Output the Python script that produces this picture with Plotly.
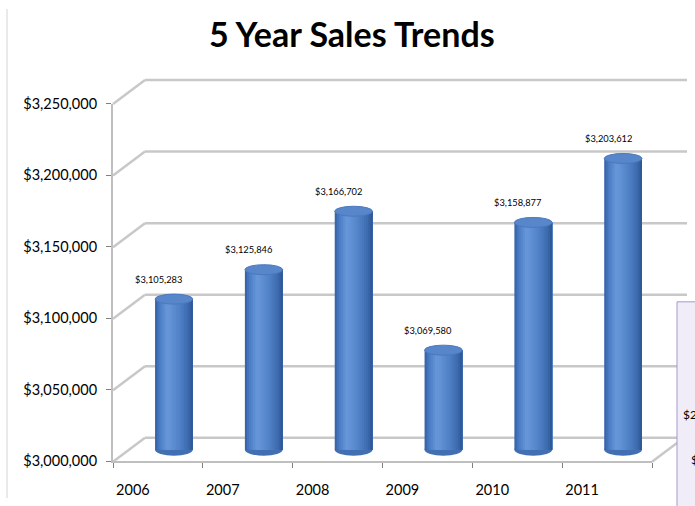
import plotly.graph_objects as go

# ---------------- data ----------------
YEARS = ["2006", "2007", "2008", "2009", "2010", "2011"]
SALES = [3105283, 3125846, 3166702, 3069580, 3158877, 3203612]
Y_TICKS = [3000000, 3050000, 3100000, 3150000, 3200000, 3250000]
Y_TICK_TEXT = ["$3,000,000", "$3,050,000", "$3,100,000", "$3,150,000", "$3,200,000", "$3,250,000"]
TITLE = "5 Year Sales Trends"
SIDE_TEXT = ["$2,950,000", "$2,900,000"]

# ---------------- geometry (pixels) ----------------
W, H = 695, 506
FX0, FX1 = 113, 652          # front floor left / right
FY0, FY1 = 468, 98           # front y of min / max tick
DX, DY = 32, 24              # depth of the 3D box
BX1 = 687                    # right end of back wall
Y_MIN, Y_MAX = Y_TICKS[0], Y_TICKS[-1]
S = (Y_MAX - Y_MIN) / (FY0 - FY1)   # value per pixel
N = len(YEARS)
STEP = (FX1 - FX0) / N
BW = 0.42                    # bar width (category units)


def fx(p):
    return p / W


def fy(p):
    return 1 - p / H


# mid-depth plane axis ranges (domain = whole figure)
mid_x0 = FX0 + DX / 2
x2_range = [(0 - mid_x0) / STEP - 0.5, (W - mid_x0) / STEP - 0.5]
y2_range = [Y_MIN - (H - (FY0 - DY / 2)) * S, Y_MAX + (FY1 - DY / 2) * S]

fig = go.Figure()

# invisible trace on front axes (keeps category axis populated)
fig.add_trace(go.Bar(x=YEARS, y=SALES, xaxis="x", yaxis="y",
                     marker=dict(color="rgba(0,0,0,0)", line=dict(width=0)),
                     hoverinfo="skip", showlegend=False))

# cylinder shading strips (each strip runs to the right edge, drawn left->right)
STOPS = [(0.0, (52, 94, 162)), (0.12, (74, 124, 196)), (0.32, (104, 152, 218)),
         (0.5, (92, 140, 208)), (0.7, (76, 124, 194)), (0.88, (60, 106, 174)),
         (1.0, (44, 84, 146))]


def shade(t):
    for (t0, c0), (t1, c1) in zip(STOPS[:-1], STOPS[1:]):
        if t0 <= t <= t1:
            f = (t - t0) / (t1 - t0)
            c = [round(a + (b - a) * f) for a, b in zip(c0, c1)]
            return "rgb(%d,%d,%d)" % tuple(c)
    return "rgb(44,84,146)"


NS = 18
for k in range(NS):
    t = (k + 0.5) / NS
    fig.add_trace(go.Bar(
        x=YEARS, y=[v - Y_MIN for v in SALES], base=Y_MIN,
        xaxis="x2", yaxis="y2",
        width=BW * (NS - k) / NS, offset=-BW / 2 + k * BW / NS,
        marker=dict(color=shade(t), line=dict(width=0)),
        hovertemplate="%{x}: $%{y:,}<extra></extra>" if k == 0 else None,
        hoverinfo=None if k == 0 else "skip",
        showlegend=False))

shapes = []
grid_col = "#C8C8C8"
# back wall gridlines + side wall diagonals
for v in Y_TICKS:
    shapes.append(dict(type="line", layer="below", xref="paper", yref="y2",
                       ysizemode="pixel", yanchor=v, y0=DY / 2, y1=DY / 2,
                       x0=fx(FX0 + DX), x1=fx(BX1),
                       line=dict(color=grid_col, width=2.5)))
    shapes.append(dict(type="line", layer="below", xref="paper", yref="y2",
                       ysizemode="pixel", yanchor=v, y0=-DY / 2, y1=DY / 2,
                       x0=fx(FX0), x1=fx(FX0 + DX),
                       line=dict(color=grid_col, width=2.5)))
# floor right diagonal
shapes.append(dict(type="line", layer="below", xref="paper", yref="y2",
                   ysizemode="pixel", yanchor=Y_MIN, y0=-DY / 2, y1=DY / 2,
                   x0=fx(FX1), x1=fx(FX1 + DX),
                   line=dict(color=grid_col, width=2.5)))
# bottom ellipses of cylinders (below bars)
for i, v in enumerate(SALES):
    shapes.append(dict(type="circle", layer="below", xref="x2", yref="y2",
                       ysizemode="pixel", yanchor=Y_MIN, y0=-6, y1=6,
                       x0=i - BW / 2, x1=i + BW / 2,
                       fillcolor="rgb(66,110,178)", line=dict(width=0)))
# top ellipses of cylinders
for i, v in enumerate(SALES):
    shapes.append(dict(type="circle", layer="above", xref="x2", yref="y2",
                       ysizemode="pixel", yanchor=v, y0=-5, y1=5,
                       x0=i - BW / 2, x1=i + BW / 2,
                       fillcolor="rgb(88,134,202)",
                       line=dict(color="rgb(76,120,188)", width=1)))
# chart border (left)
shapes.append(dict(type="line", xref="paper", yref="paper",
                   x0=fx(7), x1=fx(7), y0=0, y1=1,
                   line=dict(color="#D4D4D4", width=1)))
# overlapping purple box at right edge
shapes.append(dict(type="rect", xref="paper", yref="paper",
                   x0=fx(677), x1=1.1, y0=-0.1, y1=fy(303),
                   fillcolor="#F0ECF8", line=dict(color="#A996CF", width=1)))

annotations = []
for i, v in enumerate(SALES):
    annotations.append(dict(xref="x2", yref="y2", x=i, y=v,
                            text="${:,}".format(v), showarrow=False,
                            xanchor="center", yanchor="middle",
                            xshift=-15, yshift=20,
                            font=dict(family="Lato", size=9.3, color="#000000")))
annotations.append(dict(xref="paper", yref="paper", x=fx(352), y=fy(25),
                        text="<b>%s</b>" % TITLE, showarrow=False,
                        xanchor="center", yanchor="middle",
                        font=dict(family="Lato", size=34, color="#000000")))
annotations.append(dict(xref="paper", yref="paper", x=fx(681), y=fy(420),
                        text=SIDE_TEXT[0], showarrow=False, xanchor="left",
                        yanchor="middle",
                        font=dict(family="Lato", size=12, color="#000000")))
annotations.append(dict(xref="paper", yref="paper", x=fx(689), y=fy(466),
                        text=SIDE_TEXT[1], showarrow=False, xanchor="left",
                        yanchor="middle",
                        font=dict(family="Lato", size=12, color="#000000")))

hidden = dict(showticklabels=False, showline=False, showgrid=False,
              zeroline=False, ticks="", fixedrange=True)

fig.update_layout(
    width=W, height=H,
    margin=dict(l=0, r=0, t=0, b=0),
    paper_bgcolor="white", plot_bgcolor="rgba(0,0,0,0)",
    barmode="overlay", showlegend=False,
    font=dict(family="Lato", color="#000000"),
    xaxis=dict(domain=[fx(FX0), fx(FX1)], type="category",
               categoryorder="array", categoryarray=YEARS,
               range=[-0.5, N - 0.5], tickson="boundaries",
               ticks="outside", ticklen=5, tickcolor="#808080",
               showline=True, linecolor="#BFBFBF", linewidth=2,
               showgrid=False, zeroline=False, ticklabelshift=-25,
               ticklabelstandoff=14, anchor="y", fixedrange=True,
               tickfont=dict(family="Lato", size=14.5, color="#000000")),
    yaxis=dict(domain=[fy(FY0), fy(FY1)], range=[Y_MIN, Y_MAX],
               tickvals=Y_TICKS, ticktext=Y_TICK_TEXT,
               ticks="outside", ticklen=5, tickcolor="#808080",
               showline=True, linecolor="#BFBFBF", linewidth=2,
               showgrid=False, zeroline=False, anchor="x",
               ticklabelstandoff=6, fixedrange=True,
               tickfont=dict(family="Lato", size=14.5, color="#000000")),
    xaxis2=dict(domain=[0, 1], type="category", categoryorder="array",
                categoryarray=YEARS, range=x2_range, anchor="y2", **hidden),
    yaxis2=dict(domain=[0, 1], range=y2_range, anchor="x2", **hidden),
    shapes=shapes, annotations=annotations,
)

fig.write_html("out.html")
